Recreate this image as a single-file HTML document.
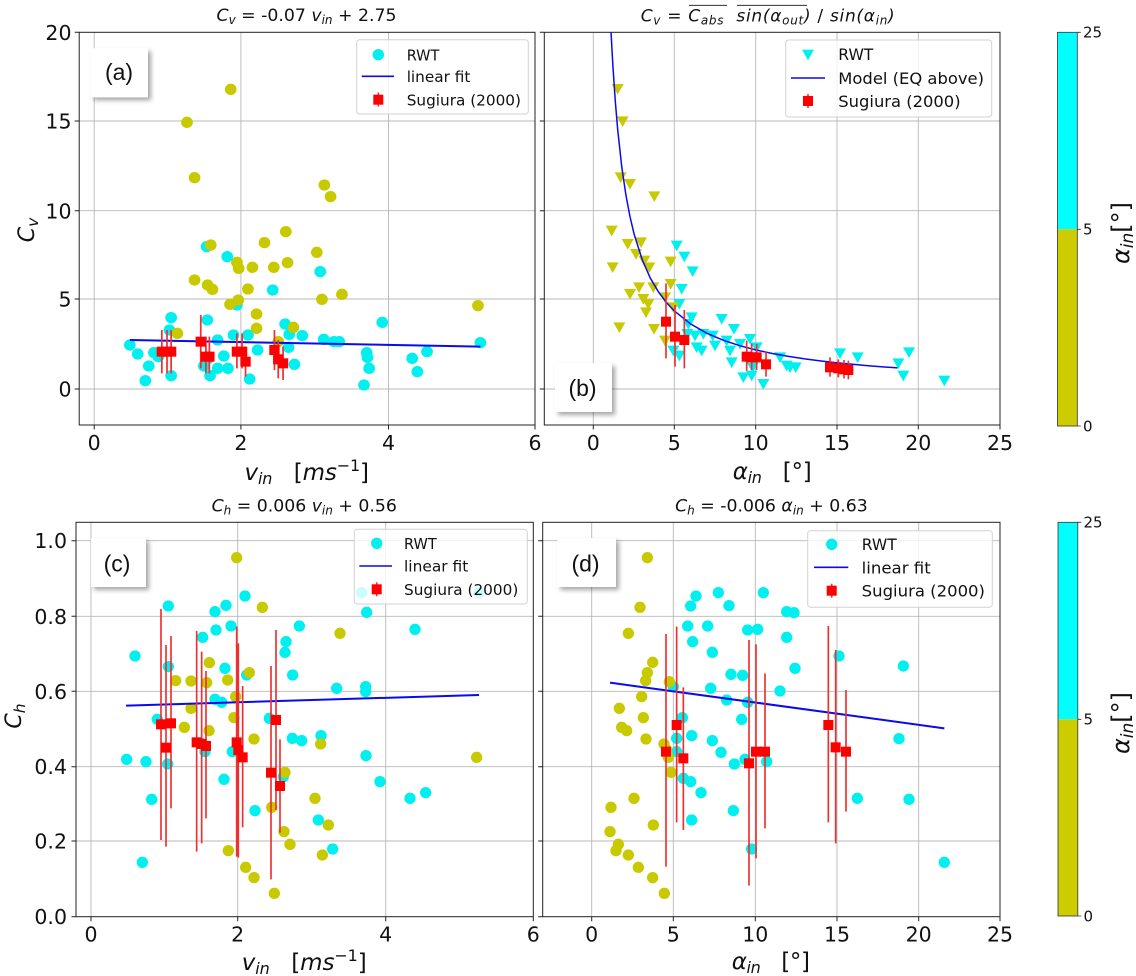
<!DOCTYPE html>
<html><head><meta charset="utf-8"><style>
html,body{margin:0;padding:0;background:#fff;}
svg{display:block;font-family:"DejaVu Sans","Liberation Sans",sans-serif;}
</style></head><body>
<svg width="1136" height="976" viewBox="0 0 1136 976" xmlns="http://www.w3.org/2000/svg">
<defs>
<path id="tri" d="M-18,-13 L18,-13 L0,19 Z"/>
<filter id="sh" x="-30%" y="-30%" width="170%" height="170%"><feDropShadow dx="3" dy="3" stdDeviation="2.5" flood-color="#000" flood-opacity="0.35"/></filter>
</defs>
<rect width="1136" height="976" fill="#fff"/>

<!-- ============ PANEL A ============ -->
<g stroke="#b8b8b8" stroke-width="0.9">
<path d="M94.2,32.3V425M240.9,32.3V425M388.5,32.3V425M79.2,389H535M79.2,299H535M79.2,210.7H535M79.2,121H535"/>
</g>
<g transform="scale(0.344353,0.333333)">
<g fill="#00f0f0">
<circle cx="377" cy="1035" r="17"/><circle cx="400" cy="1062" r="17"/><circle cx="447" cy="1058" r="17"/><circle cx="432" cy="1098" r="17"/><circle cx="422" cy="1142" r="17"/><circle cx="497" cy="953" r="17"/><circle cx="492" cy="990" r="17"/><circle cx="497" cy="1127" r="17"/><circle cx="600" cy="740" r="17"/><circle cx="602" cy="960" r="17"/><circle cx="592" cy="1098" r="17"/><circle cx="610" cy="1127" r="17"/><circle cx="632" cy="1020" r="17"/><circle cx="632" cy="1105" r="17"/><circle cx="650" cy="1068" r="17"/><circle cx="660" cy="770" r="17"/><circle cx="662" cy="1105" r="17"/><circle cx="678" cy="1005" r="17"/><circle cx="688" cy="915" r="17"/><circle cx="720" cy="1005" r="17"/><circle cx="725" cy="1137" r="17"/><circle cx="748" cy="1050" r="17"/><circle cx="792" cy="870" r="17"/><circle cx="828" cy="972" r="17"/><circle cx="838" cy="1042" r="17"/><circle cx="840" cy="1003" r="17"/><circle cx="855" cy="1093" r="17"/><circle cx="878" cy="1007" r="17"/><circle cx="930" cy="815" r="17"/><circle cx="940" cy="1018" r="17"/><circle cx="970" cy="1025" r="17"/><circle cx="985" cy="1025" r="17"/><circle cx="1065" cy="1058" r="17"/><circle cx="1067" cy="1072" r="17"/><circle cx="1072" cy="1105" r="17"/><circle cx="1057" cy="1155" r="17"/><circle cx="1110" cy="967" r="17"/><circle cx="1197" cy="1075" r="17"/><circle cx="1212" cy="1115" r="17"/><circle cx="1240" cy="1055" r="17"/><circle cx="1395" cy="1028" r="17"/><circle cx="460" cy="1070" r="17"/><circle cx="605" cy="1075" r="17"/>
</g>
<g fill="#c9c900">
<circle cx="670" cy="268" r="17"/><circle cx="543" cy="367" r="17"/><circle cx="565" cy="533" r="17"/><circle cx="942" cy="555" r="17"/><circle cx="960" cy="590" r="17"/><circle cx="830" cy="695" r="17"/><circle cx="768" cy="728" r="17"/><circle cx="612" cy="735" r="17"/><circle cx="920" cy="757" r="17"/><circle cx="835" cy="788" r="17"/><circle cx="688" cy="787" r="17"/><circle cx="693" cy="805" r="17"/><circle cx="733" cy="802" r="17"/><circle cx="795" cy="802" r="17"/><circle cx="565" cy="840" r="17"/><circle cx="603" cy="855" r="17"/><circle cx="617" cy="868" r="17"/><circle cx="720" cy="867" r="17"/><circle cx="692" cy="900" r="17"/><circle cx="668" cy="913" r="17"/><circle cx="935" cy="898" r="17"/><circle cx="993" cy="883" r="17"/><circle cx="1388" cy="917" r="17"/><circle cx="745" cy="942" r="17"/><circle cx="745" cy="985" r="17"/><circle cx="515" cy="1000" r="17"/><circle cx="852" cy="982" r="17"/><circle cx="808" cy="1025" r="17"/>
</g>
<line x1="377" y1="1020" x2="1395" y2="1040" stroke="#0a0aee" stroke-width="6"/>
<path d="M470,990V1120M485,990V1120M497,990V1120M583,945V1105M598,1010V1120M608,1010V1120M688,1000V1105M703,1000V1105M713,1040V1130M797,990V1110M808,1020V1135M822,1040V1140" stroke="#f03030" stroke-width="5"/>
<g fill="#ff0000">
<rect x="455" y="1040" width="30" height="30"/><rect x="470" y="1040" width="30" height="30"/><rect x="482" y="1040" width="30" height="30"/><rect x="568" y="1010" width="30" height="30"/><rect x="583" y="1055" width="30" height="30"/><rect x="593" y="1055" width="30" height="30"/><rect x="673" y="1040" width="30" height="30"/><rect x="688" y="1040" width="30" height="30"/><rect x="698" y="1070" width="30" height="30"/><rect x="782" y="1035" width="30" height="30"/><rect x="793" y="1063" width="30" height="30"/><rect x="807" y="1075" width="30" height="30"/>
</g>
</g>
<rect x="79.2" y="32.3" width="455.8" height="392.7" fill="none" stroke="#222" stroke-width="1"/>
<path d="M94.2,425v4.5M240.9,425v4.5M388.5,425v4.5M535,425v4.5M74.7,389h4.5M74.7,299h4.5M74.7,210.7h4.5M74.7,121h4.5M74.7,32.3h4.5" stroke="#222" stroke-width="1"/>
<g font-size="20.5" fill="#111" text-anchor="middle">
<text x="94.2" y="450">0</text><text x="240.9" y="450">2</text><text x="388.5" y="450">4</text><text x="535" y="450">6</text>
</g>
<g font-size="20.5" fill="#111" text-anchor="end">
<text x="71.5" y="40">20</text><text x="71.5" y="128.7">15</text><text x="71.5" y="218.4">10</text><text x="71.5" y="306.7">5</text><text x="71.5" y="396.7">0</text>
</g>
<text x="306.5" y="21" font-size="17.3" fill="#111" text-anchor="middle"><tspan font-style="italic">C</tspan><tspan font-style="italic" font-size="12" dy="3">v</tspan><tspan dy="-3">&#160;= -0.07 </tspan><tspan font-style="italic">v</tspan><tspan font-style="italic" font-size="12" dy="3">in</tspan><tspan dy="-3">&#160;+ 2.75</tspan></text>
<text transform="translate(34,230) rotate(-90)" text-anchor="middle" font-size="22" fill="#111"><tspan font-style="italic">C</tspan><tspan font-style="italic" font-size="15.5" dy="4">v</tspan></text>
<text x="244.5" y="480" font-size="23" fill="#111" textLength="124.5" lengthAdjust="spacing"><tspan font-style="italic">v</tspan><tspan font-style="italic" font-size="16" dy="4">in</tspan><tspan dy="-4">&#160;&#160;&#160;[</tspan><tspan font-style="italic">ms</tspan><tspan font-size="16" dy="-9">−1</tspan><tspan dy="9">]</tspan></text>
<!-- legend a -->
<rect x="356.7" y="39.7" width="171.6" height="74.3" rx="3" fill="#fff" fill-opacity="0.8" stroke="#d2d2d2" stroke-width="1"/>
<circle cx="378.3" cy="54.7" r="5.7" fill="#00f0f0"/>
<line x1="361.7" y1="76.3" x2="394" y2="76.3" stroke="#0a0aee" stroke-width="1.6"/>
<line x1="378.3" y1="92.5" x2="378.3" y2="106.5" stroke="#f03030" stroke-width="1.6"/>
<rect x="373.3" y="94.7" width="10" height="10" fill="#ff0000"/>
<g font-size="15.3" fill="#111">
<text x="406.7" y="60.3" textLength="32.7" lengthAdjust="spacingAndGlyphs">RWT</text>
<text x="406.7" y="82" textLength="63.7" lengthAdjust="spacingAndGlyphs">linear fit</text>
<text x="406.7" y="105.3" textLength="114.3" lengthAdjust="spacingAndGlyphs">Sugiura (2000)</text>
</g>
<rect x="90.6" y="48.3" width="57.4" height="49" fill="#fff" filter="url(#sh)"/>
<text x="119" y="80" font-family="Liberation Sans, sans-serif" font-size="23" text-anchor="middle" fill="#111">(a)</text>

<!-- ============ PANEL B ============ -->
<g stroke="#b8b8b8" stroke-width="0.9">
<path d="M593.3,32.3V425M674.3,32.3V425M755.7,32.3V425M837,32.3V425M918.3,32.3V425M544.3,389H1000M544.3,299H1000M544.3,210.7H1000M544.3,121H1000"/>
</g>
<g transform="translate(530,0) scale(0.333333)">
<g fill="#00f0f0">
<use href="#tri" x="440" y="735"/><use href="#tri" x="463" y="768"/><use href="#tri" x="488" y="812"/><use href="#tri" x="455" y="865"/><use href="#tri" x="448" y="910"/><use href="#tri" x="485" y="950"/><use href="#tri" x="475" y="970"/><use href="#tri" x="495" y="1005"/><use href="#tri" x="515" y="1050"/><use href="#tri" x="472" y="1000"/><use href="#tri" x="430" y="1050"/><use href="#tri" x="448" y="1065"/><use href="#tri" x="575" y="955"/><use href="#tri" x="612" y="985"/><use href="#tri" x="548" y="1005"/><use href="#tri" x="555" y="1035"/><use href="#tri" x="590" y="1020"/><use href="#tri" x="605" y="1085"/><use href="#tri" x="630" y="1030"/><use href="#tri" x="640" y="1130"/><use href="#tri" x="660" y="1015"/><use href="#tri" x="665" y="1125"/><use href="#tri" x="680" y="1040"/><use href="#tri" x="700" y="1150"/><use href="#tri" x="668" y="1100"/><use href="#tri" x="750" y="1070"/><use href="#tri" x="770" y="1095"/><use href="#tri" x="780" y="1100"/><use href="#tri" x="797" y="1100"/><use href="#tri" x="930" y="1058"/><use href="#tri" x="983" y="1070"/><use href="#tri" x="1105" y="1088"/><use href="#tri" x="1120" y="1125"/><use href="#tri" x="1137" y="1055"/><use href="#tri" x="1243" y="1140"/><use href="#tri" x="915" y="1100"/><use href="#tri" x="520" y="1000"/><use href="#tri" x="600" y="1050"/><use href="#tri" x="500" y="1040"/>
</g>
<g fill="#c9c900">
<use href="#tri" x="263" y="265"/><use href="#tri" x="278" y="362"/><use href="#tri" x="272" y="530"/><use href="#tri" x="300" y="550"/><use href="#tri" x="373" y="587"/><use href="#tri" x="245" y="690"/><use href="#tri" x="248" y="800"/><use href="#tri" x="293" y="730"/><use href="#tri" x="333" y="725"/><use href="#tri" x="318" y="760"/><use href="#tri" x="343" y="780"/><use href="#tri" x="358" y="800"/><use href="#tri" x="422" y="783"/><use href="#tri" x="422" y="850"/><use href="#tri" x="327" y="860"/><use href="#tri" x="300" y="880"/><use href="#tri" x="370" y="860"/><use href="#tri" x="340" y="895"/><use href="#tri" x="355" y="910"/><use href="#tri" x="348" y="935"/><use href="#tri" x="372" y="985"/><use href="#tri" x="268" y="980"/><use href="#tri" x="405" y="890"/><use href="#tri" x="405" y="1020"/><use href="#tri" x="430" y="920"/>
</g>
<polyline fill="none" stroke="#0a0aee" stroke-width="4.5" points="243.1,97.1 248.6,196.2 255.9,304 263.2,390.2 275.4,501.5 287.6,584.4 299.8,649.1 312,701 336.4,778.6 360.8,834.2 385.2,875.4 409.6,908.1 434,933.7 482.8,972.5 531.6,1000.2 580.4,1021 629.2,1037 678,1049.9 726.8,1060.4 775.6,1069.2 824.4,1076.6 873.2,1082.9 922,1088.5 970.8,1093.2 1019.6,1097.5 1068.4,1101.2 1102.6,1103.6"/>
<path d="M408,850V1075M435,915V1100M463,930V1105M650,1022V1112M665,1030V1110M680,1032V1110M708,1055V1130M900,1072V1130M925,1078V1132M942,1080V1135M955,1082V1138" stroke="#f03030" stroke-width="5"/>
<g fill="#ff0000">
<rect x="393" y="950" width="30" height="30"/><rect x="420" y="995" width="30" height="30"/><rect x="448" y="1005" width="30" height="30"/><rect x="635" y="1055" width="30" height="30"/><rect x="650" y="1057" width="30" height="30"/><rect x="665" y="1057" width="30" height="30"/><rect x="693" y="1078" width="30" height="30"/><rect x="885" y="1087" width="30" height="30"/><rect x="910" y="1090" width="30" height="30"/><rect x="927" y="1093" width="30" height="30"/><rect x="940" y="1095" width="30" height="30"/>
</g>
</g>
<rect x="544.3" y="32.3" width="455.7" height="392.7" fill="none" stroke="#222" stroke-width="1"/>
<path d="M593.3,425v4.5M674.3,425v4.5M755.7,425v4.5M837,425v4.5M918.3,425v4.5M1000,425v4.5M539.8,389h4.5M539.8,299h4.5M539.8,210.7h4.5M539.8,121h4.5M539.8,32.3h4.5" stroke="#222" stroke-width="1"/>
<g font-size="20.5" fill="#111" text-anchor="middle">
<text x="593.3" y="450">0</text><text x="674.3" y="450">5</text><text x="755.7" y="450">10</text><text x="837" y="450">15</text><text x="918.3" y="450">20</text><text x="1000" y="450">25</text>
</g>
<text x="640.7" y="21.7" font-size="17" fill="#111" textLength="254" lengthAdjust="spacing"><tspan font-style="italic">C</tspan><tspan font-style="italic" font-size="12" dy="3">v</tspan><tspan dy="-3">&#160;= </tspan><tspan font-style="italic">C</tspan><tspan font-style="italic" font-size="12" dy="3">abs</tspan><tspan dy="-3">&#160;&#160;</tspan><tspan font-style="italic">sin(α</tspan><tspan font-style="italic" font-size="12" dy="3">out</tspan><tspan dy="-3" font-style="italic">)</tspan><tspan>&#160;/ </tspan><tspan font-style="italic">sin(α</tspan><tspan font-style="italic" font-size="12" dy="3">in</tspan><tspan dy="-3" font-style="italic">)</tspan></text>
<path d="M689,5.3H727M737,5.3H807" stroke="#111" stroke-width="0.9"/>
<text x="732.7" y="479" font-size="23" fill="#111" textLength="79" lengthAdjust="spacing"><tspan font-style="italic">α</tspan><tspan font-style="italic" font-size="16" dy="4">in</tspan><tspan dy="-4">&#160;&#160;&#160;[°]</tspan></text>
<!-- legend b -->
<rect x="785.7" y="40" width="206" height="77" rx="3" fill="#fff" fill-opacity="0.8" stroke="#d2d2d2" stroke-width="1"/>
<path d="M802,49.6h12l-6,10.7z" fill="#00f0f0"/>
<line x1="791" y1="78" x2="825" y2="78" stroke="#0a0aee" stroke-width="1.6"/>
<line x1="808" y1="94" x2="808" y2="108" stroke="#f03030" stroke-width="1.6"/>
<rect x="803" y="96" width="10" height="10" fill="#ff0000"/>
<g font-size="16.3" fill="#111">
<text x="838.3" y="60" textLength="35" lengthAdjust="spacingAndGlyphs">RWT</text>
<text x="838.3" y="84" textLength="145.7" lengthAdjust="spacingAndGlyphs">Model (EQ above)</text>
<text x="838.3" y="107" textLength="122.3" lengthAdjust="spacingAndGlyphs">Sugiura (2000)</text>
</g>
<rect x="555" y="363" width="57" height="49" fill="#fff" filter="url(#sh)"/>
<text x="582.5" y="396" font-family="Liberation Sans, sans-serif" font-size="23" text-anchor="middle" fill="#111">(b)</text>

<!-- colorbar top -->
<rect x="1057.5" y="32.3" width="19.8" height="197" fill="#00ffff"/>
<rect x="1057.5" y="229.3" width="19.8" height="196.7" fill="#cccc00"/>
<rect x="1057.5" y="32.3" width="19.8" height="393.7" fill="none" stroke="#333" stroke-width="0.8"/>
<path d="M1077.3,32.3h3.5M1077.3,229.3h3.5M1077.3,426h3.5" stroke="#333" stroke-width="0.8"/>
<g font-size="15" fill="#111">
<text x="1083" y="37.5">25</text><text x="1083" y="234.5">5</text><text x="1083" y="431.5">0</text>
</g>
<text transform="translate(1129,233) rotate(-90)" text-anchor="middle" font-size="24" fill="#111"><tspan font-style="italic">α</tspan><tspan font-style="italic" font-size="17" dy="4">in</tspan><tspan dy="-4">[°]</tspan></text>

<!-- ============ PANEL C ============ -->
<g stroke="#b8b8b8" stroke-width="0.9">
<path d="M91,522.3V916.7M237.7,522.3V916.7M385.7,522.3V916.7M76,540.7H533.3M76,616.3H533.3M76,691.3H533.3M76,766.7H533.3M76,841H533.3"/>
</g>
<g transform="translate(0,490) scale(0.333333)">
<g fill="#00f0f0">
<circle cx="405" cy="498" r="17"/><circle cx="380" cy="808" r="17"/><circle cx="438" cy="815" r="17"/><circle cx="455" cy="928" r="17"/><circle cx="427" cy="1117" r="17"/><circle cx="472" cy="688" r="17"/><circle cx="505" cy="348" r="17"/><circle cx="505" cy="530" r="17"/><circle cx="503" cy="822" r="17"/><circle cx="608" cy="442" r="17"/><circle cx="645" cy="365" r="17"/><circle cx="648" cy="420" r="17"/><circle cx="678" cy="346" r="17"/><circle cx="675" cy="535" r="17"/><circle cx="693" cy="408" r="17"/><circle cx="645" cy="628" r="17"/><circle cx="665" cy="637" r="17"/><circle cx="615" cy="785" r="17"/><circle cx="605" cy="760" r="17"/><circle cx="672" cy="868" r="17"/><circle cx="697" cy="785" r="17"/><circle cx="735" cy="318" r="17"/><circle cx="740" cy="555" r="17"/><circle cx="765" cy="962" r="17"/><circle cx="808" cy="685" r="17"/><circle cx="858" cy="455" r="17"/><circle cx="855" cy="487" r="17"/><circle cx="878" cy="555" r="17"/><circle cx="877" cy="745" r="17"/><circle cx="905" cy="752" r="17"/><circle cx="898" cy="408" r="17"/><circle cx="850" cy="860" r="17"/><circle cx="963" cy="737" r="17"/><circle cx="955" cy="990" r="17"/><circle cx="998" cy="1077" r="17"/><circle cx="1010" cy="595" r="17"/><circle cx="1097" cy="590" r="17"/><circle cx="1097" cy="605" r="17"/><circle cx="1100" cy="367" r="17"/><circle cx="1098" cy="797" r="17"/><circle cx="1140" cy="875" r="17"/><circle cx="1085" cy="308" r="17"/><circle cx="1245" cy="418" r="17"/><circle cx="1230" cy="925" r="17"/><circle cx="1277" cy="908" r="17"/><circle cx="1437" cy="308" r="17"/>
</g>
<g fill="#c9c900">
<circle cx="710" cy="203" r="17"/><circle cx="787" cy="352" r="17"/><circle cx="1020" cy="430" r="17"/><circle cx="628" cy="518" r="17"/><circle cx="527" cy="572" r="17"/><circle cx="573" cy="573" r="17"/><circle cx="620" cy="578" r="17"/><circle cx="683" cy="570" r="17"/><circle cx="748" cy="548" r="17"/><circle cx="707" cy="620" r="17"/><circle cx="573" cy="655" r="17"/><circle cx="702" cy="683" r="17"/><circle cx="553" cy="712" r="17"/><circle cx="627" cy="722" r="17"/><circle cx="762" cy="747" r="17"/><circle cx="962" cy="762" r="17"/><circle cx="1430" cy="802" r="17"/><circle cx="855" cy="847" r="17"/><circle cx="815" cy="952" r="17"/><circle cx="945" cy="925" r="17"/><circle cx="985" cy="1005" r="17"/><circle cx="852" cy="1025" r="17"/><circle cx="870" cy="1063" r="17"/><circle cx="685" cy="1082" r="17"/><circle cx="967" cy="1095" r="17"/><circle cx="737" cy="1132" r="17"/><circle cx="762" cy="1163" r="17"/><circle cx="823" cy="1210" r="17"/>
</g>
<line x1="378" y1="647" x2="1437" y2="615" stroke="#0a0aee" stroke-width="6"/>
<path d="M483,357V1050M498,465V1070M513,438V955M590,423V1085M605,485V1060M618,543V985M710,410V1100M715,460V1103M728,588V1012M813,528V1168M828,420V960M840,748V1028" stroke="#f03030" stroke-width="5"/>
<g fill="#ff0000">
<rect x="468" y="688" width="30" height="30"/><rect x="483" y="758" width="30" height="30"/><rect x="498" y="685" width="30" height="30"/><rect x="575" y="742" width="30" height="30"/><rect x="590" y="747" width="30" height="30"/><rect x="603" y="753" width="30" height="30"/><rect x="695" y="742" width="30" height="30"/><rect x="700" y="765" width="30" height="30"/><rect x="713" y="787" width="30" height="30"/><rect x="798" y="833" width="30" height="30"/><rect x="813" y="675" width="30" height="30"/><rect x="825" y="873" width="30" height="30"/>
</g>
</g>
<rect x="76" y="522.3" width="457.3" height="394.4" fill="none" stroke="#222" stroke-width="1"/>
<path d="M91,916.7v4.5M237.7,916.7v4.5M385.7,916.7v4.5M533.3,916.7v4.5M71.5,540.7h4.5M71.5,616.3h4.5M71.5,691.3h4.5M71.5,766.7h4.5M71.5,841h4.5M71.5,916.7h4.5" stroke="#222" stroke-width="1"/>
<g font-size="20.5" fill="#111" text-anchor="middle">
<text x="91" y="941.5">0</text><text x="237.7" y="941.5">2</text><text x="385.7" y="941.5">4</text><text x="533.3" y="941.5">6</text>
</g>
<g font-size="20.5" fill="#111" text-anchor="end">
<text x="67" y="548.2">1.0</text><text x="67" y="623.8">0.8</text><text x="67" y="698.8">0.6</text><text x="67" y="774.2">0.4</text><text x="67" y="848.5">0.2</text><text x="67" y="924.2">0.0</text>
</g>
<text x="304.2" y="511.7" font-size="17.3" fill="#111" text-anchor="middle"><tspan font-style="italic">C</tspan><tspan font-style="italic" font-size="12" dy="3">h</tspan><tspan dy="-3">&#160;= 0.006 </tspan><tspan font-style="italic">v</tspan><tspan font-style="italic" font-size="12" dy="3">in</tspan><tspan dy="-3">&#160;+ 0.56</tspan></text>
<text transform="translate(21,716) rotate(-90)" text-anchor="middle" font-size="22" fill="#111"><tspan font-style="italic">C</tspan><tspan font-style="italic" font-size="15.5" dy="4">h</tspan></text>
<text x="241.7" y="970" font-size="23" fill="#111" textLength="125" lengthAdjust="spacing"><tspan font-style="italic">v</tspan><tspan font-style="italic" font-size="16" dy="4">in</tspan><tspan dy="-4">&#160;&#160;&#160;[</tspan><tspan font-style="italic">ms</tspan><tspan font-size="16" dy="-9">−1</tspan><tspan dy="9">]</tspan></text>
<!-- legend c -->
<rect x="354.3" y="529.3" width="173" height="74.7" rx="3" fill="#fff" fill-opacity="0.8" stroke="#d2d2d2" stroke-width="1"/>
<circle cx="376.7" cy="543.3" r="5.7" fill="#00f0f0"/>
<line x1="359.3" y1="566" x2="392" y2="566" stroke="#0a0aee" stroke-width="1.6"/>
<line x1="376.7" y1="582.3" x2="376.7" y2="596.3" stroke="#f03030" stroke-width="1.6"/>
<rect x="371.7" y="584.3" width="10" height="10" fill="#ff0000"/>
<g font-size="15.3" fill="#111">
<text x="404" y="548.8" textLength="32.7" lengthAdjust="spacingAndGlyphs">RWT</text>
<text x="404" y="571.6" textLength="64.3" lengthAdjust="spacingAndGlyphs">linear fit</text>
<text x="404" y="594.8" textLength="114.3" lengthAdjust="spacingAndGlyphs">Sugiura (2000)</text>
</g>
<rect x="91" y="538" width="55" height="49" fill="#fff" filter="url(#sh)"/>
<text x="117" y="571.7" font-family="Liberation Sans, sans-serif" font-size="23" text-anchor="middle" fill="#111">(c)</text>

<!-- ============ PANEL D ============ -->
<g stroke="#b8b8b8" stroke-width="0.9">
<path d="M591.7,522.3V916.7M673.3,522.3V916.7M755.3,522.3V916.7M837,522.3V916.7M918.7,522.3V916.7M542.7,540.7H1000M542.7,616.3H1000M542.7,691.3H1000M542.7,766.7H1000M542.7,841H1000"/>
</g>
<g transform="translate(520,490) scale(0.333333)">
<g fill="#00f0f0">
<circle cx="595" cy="308" r="17"/><circle cx="730" cy="308" r="17"/><circle cx="528" cy="318" r="17"/><circle cx="512" cy="348" r="17"/><circle cx="627" cy="347" r="17"/><circle cx="800" cy="365" r="17"/><circle cx="822" cy="368" r="17"/><circle cx="503" cy="408" r="17"/><circle cx="563" cy="408" r="17"/><circle cx="683" cy="420" r="17"/><circle cx="713" cy="418" r="17"/><circle cx="800" cy="442" r="17"/><circle cx="518" cy="455" r="17"/><circle cx="577" cy="487" r="17"/><circle cx="957" cy="498" r="17"/><circle cx="1150" cy="528" r="17"/><circle cx="825" cy="535" r="17"/><circle cx="633" cy="553" r="17"/><circle cx="668" cy="556" r="17"/><circle cx="460" cy="590" r="17"/><circle cx="572" cy="595" r="17"/><circle cx="780" cy="603" r="17"/><circle cx="620" cy="630" r="17"/><circle cx="683" cy="637" r="17"/><circle cx="487" cy="683" r="17"/><circle cx="665" cy="688" r="17"/><circle cx="470" cy="745" r="17"/><circle cx="515" cy="737" r="17"/><circle cx="577" cy="752" r="17"/><circle cx="1137" cy="746" r="17"/><circle cx="603" cy="787" r="17"/><circle cx="470" cy="785" r="17"/><circle cx="643" cy="822" r="17"/><circle cx="675" cy="808" r="17"/><circle cx="740" cy="815" r="17"/><circle cx="490" cy="865" r="17"/><circle cx="512" cy="875" r="17"/><circle cx="543" cy="908" r="17"/><circle cx="640" cy="962" r="17"/><circle cx="515" cy="990" r="17"/><circle cx="1012" cy="925" r="17"/><circle cx="1167" cy="928" r="17"/><circle cx="695" cy="1077" r="17"/><circle cx="1273" cy="1117" r="17"/>
</g>
<g fill="#c9c900">
<circle cx="382" cy="203" r="17"/><circle cx="360" cy="352" r="17"/><circle cx="325" cy="430" r="17"/><circle cx="398" cy="517" r="17"/><circle cx="382" cy="548" r="17"/><circle cx="377" cy="572" r="17"/><circle cx="448" cy="575" r="17"/><circle cx="365" cy="620" r="17"/><circle cx="298" cy="655" r="17"/><circle cx="370" cy="683" r="17"/><circle cx="305" cy="712" r="17"/><circle cx="320" cy="722" r="17"/><circle cx="378" cy="747" r="17"/><circle cx="432" cy="762" r="17"/><circle cx="445" cy="802" r="17"/><circle cx="453" cy="847" r="17"/><circle cx="342" cy="925" r="17"/><circle cx="273" cy="952" r="17"/><circle cx="400" cy="1005" r="17"/><circle cx="270" cy="1025" r="17"/><circle cx="295" cy="1063" r="17"/><circle cx="288" cy="1082" r="17"/><circle cx="325" cy="1095" r="17"/><circle cx="355" cy="1132" r="17"/><circle cx="398" cy="1163" r="17"/><circle cx="433" cy="1210" r="17"/><circle cx="440" cy="780" r="17"/>
</g>
<line x1="270" y1="578" x2="1273" y2="715" stroke="#0a0aee" stroke-width="6"/>
<path d="M438,432V1130M470,410V997M490,592V1020M687,450V1187M708,463V1105M735,550V1015M925,408V997M947,480V1060M978,600V965" stroke="#f03030" stroke-width="5"/>
<g fill="#ff0000">
<rect x="423" y="770" width="30" height="30"/><rect x="455" y="690" width="30" height="30"/><rect x="475" y="790" width="30" height="30"/><rect x="672" y="805" width="30" height="30"/><rect x="693" y="770" width="30" height="30"/><rect x="720" y="770" width="30" height="30"/><rect x="910" y="690" width="30" height="30"/><rect x="932" y="757" width="30" height="30"/><rect x="963" y="770" width="30" height="30"/>
</g>
</g>
<rect x="542.7" y="522.3" width="457.3" height="394.4" fill="none" stroke="#222" stroke-width="1"/>
<path d="M591.7,916.7v4.5M673.3,916.7v4.5M755.3,916.7v4.5M837,916.7v4.5M918.7,916.7v4.5M1000,916.7v4.5M538.2,540.7h4.5M538.2,616.3h4.5M538.2,691.3h4.5M538.2,766.7h4.5M538.2,841h4.5M538.2,916.7h4.5" stroke="#222" stroke-width="1"/>
<g font-size="20.5" fill="#111" text-anchor="middle">
<text x="591.7" y="941.5">0</text><text x="673.3" y="941.5">5</text><text x="755.3" y="941.5">10</text><text x="837" y="941.5">15</text><text x="918.7" y="941.5">20</text><text x="1000" y="941.5">25</text>
</g>
<text x="771.4" y="511.7" font-size="17.3" fill="#111" text-anchor="middle"><tspan font-style="italic">C</tspan><tspan font-style="italic" font-size="12" dy="3">h</tspan><tspan dy="-3">&#160;= -0.006 </tspan><tspan font-style="italic">α</tspan><tspan font-style="italic" font-size="12" dy="3">in</tspan><tspan dy="-3">&#160;+ 0.63</tspan></text>
<text x="731.7" y="969" font-size="23" fill="#111" textLength="78.3" lengthAdjust="spacing"><tspan font-style="italic">α</tspan><tspan font-style="italic" font-size="16" dy="4">in</tspan><tspan dy="-4">&#160;&#160;&#160;[°]</tspan></text>
<!-- legend d -->
<rect x="807.7" y="530.7" width="184.6" height="76.6" rx="3" fill="#fff" fill-opacity="0.8" stroke="#d2d2d2" stroke-width="1"/>
<circle cx="831.7" cy="544.3" r="5.7" fill="#00f0f0"/>
<line x1="814" y1="567.3" x2="848.3" y2="567.3" stroke="#0a0aee" stroke-width="1.6"/>
<line x1="831.7" y1="583.7" x2="831.7" y2="597.7" stroke="#f03030" stroke-width="1.6"/>
<rect x="826.7" y="585.7" width="10" height="10" fill="#ff0000"/>
<g font-size="16.3" fill="#111">
<text x="861.7" y="550.2" textLength="35" lengthAdjust="spacingAndGlyphs">RWT</text>
<text x="861.7" y="573.3" textLength="69" lengthAdjust="spacingAndGlyphs">linear fit</text>
<text x="861.7" y="596.6" textLength="123.3" lengthAdjust="spacingAndGlyphs">Sugiura (2000)</text>
</g>
<rect x="557.3" y="538" width="58.7" height="49" fill="#fff" filter="url(#sh)"/>
<text x="585.5" y="571.7" font-family="Liberation Sans, sans-serif" font-size="23" text-anchor="middle" fill="#111">(d)</text>

<!-- colorbar bottom -->
<rect x="1058" y="522.3" width="19.8" height="197" fill="#00ffff"/>
<rect x="1058" y="719.3" width="19.8" height="196.7" fill="#cccc00"/>
<rect x="1058" y="522.3" width="19.8" height="393.7" fill="none" stroke="#333" stroke-width="0.8"/>
<path d="M1077.8,522.3h3.5M1077.8,719.3h3.5M1077.8,916h3.5" stroke="#333" stroke-width="0.8"/>
<g font-size="15" fill="#111">
<text x="1083.5" y="527.5">25</text><text x="1083.5" y="724.5">5</text><text x="1083.5" y="921.5">0</text>
</g>
<text transform="translate(1129,723) rotate(-90)" text-anchor="middle" font-size="24" fill="#111"><tspan font-style="italic">α</tspan><tspan font-style="italic" font-size="17" dy="4">in</tspan><tspan dy="-4">[°]</tspan></text>
</svg>
</body></html>
